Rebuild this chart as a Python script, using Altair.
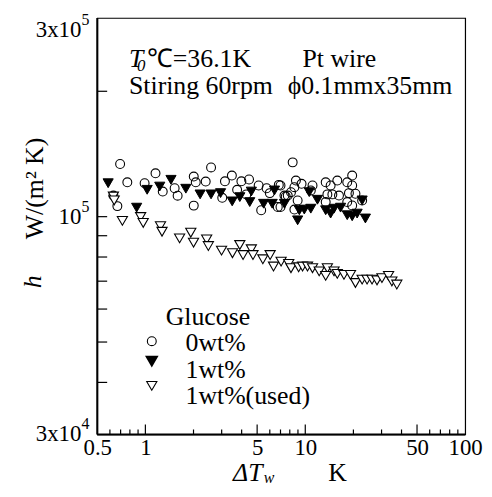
import altair as alt
import pandas as pd

# ---------------- data (dT in K, h in units of 1e5 W/(m2 K)) ----------------
dT_0wt = [0.695, 0.771, 0.631, 0.668, 0.989, 1.157, 1.284, 1.524, 1.591, 2.007, 2.066, 2.007,
          2.384, 2.575, 3.025, 3.145, 3.475, 3.748, 3.985, 4.45, 4.28, 5.11, 5.30, 5.73, 6.00,
          6.83, 7.00, 7.55, 8.34, 7.00, 7.41, 8.14, 8.55, 8.74, 9.48, 11.10, 10.83, 8.55, 13.42,
          14.41, 15.86, 18.30, 19.65, 19.65, 14.77, 13.75, 16.25, 18.75, 20.60, 22.68, 13.42,
          19.65, 18.30, 8.96, 7.77, 6.73]
h_0wt = [1.338, 1.209, 1.124, 1.060, 1.203, 1.271, 1.149, 1.170, 1.123, 1.248, 1.209, 1.063,
         1.214, 1.313, 1.110, 1.216, 1.255, 1.160, 1.216, 1.228, 1.131, 1.188, 1.036, 1.170,
         1.139, 1.192, 1.055, 1.118, 1.350, 1.188, 1.124, 1.145, 1.177, 1.221, 1.199, 1.188,
         1.156, 1.040, 1.209, 1.188, 1.221, 1.209, 1.255, 1.188, 1.131, 1.131, 1.124, 1.139,
         1.135, 1.094, 1.084, 1.064, 1.084, 1.094, 1.124, 1.055]

dT_1wt = [0.585, 0.882, 1.026, 1.230, 1.446, 1.791, 2.200, 2.575, 2.953, 3.49, 3.896, 4.60,
          4.495, 5.49, 6.21, 6.42, 7.41, 8.96, 9.18, 9.86, 10.83, 10.59, 11.92, 13.42, 14.41,
          15.13, 16.63, 18.30, 19.65, 21.10, 22.68, 23.77]
h_1wt = [1.203, 1.051, 1.160, 1.181, 1.226, 1.167, 1.131, 1.131, 1.139, 1.088, 1.114, 1.149,
         1.084, 1.074, 1.074, 1.156, 1.074, 0.980, 1.036, 1.040, 1.045, 1.145, 1.098, 1.036,
         1.017, 1.045, 1.051, 1.008, 1.002, 1.017, 1.094, 0.990]

dT_used = [0.631, 0.638, 0.718, 0.934, 0.969, 1.243, 1.271, 1.637, 1.923, 2.0, 2.417, 2.477,
           2.995, 3.505, 3.896, 4.083, 4.60, 4.71, 5.43, 6.03, 6.33, 7.06, 7.88, 8.14, 9.09,
           9.62, 10.33, 11.10, 12.22, 13.75, 13.42, 15.13, 15.86, 17.46, 19.18, 20.60, 22.68,
           24.35, 26.16, 28.09, 30.17, 33.19, 34.8, 37.38]
h_used = [1.118, 1.094, 0.977, 0.998, 0.966, 0.949, 0.920, 0.887, 0.915, 0.866, 0.882, 0.850,
          0.829, 0.817, 0.855, 0.809, 0.835, 0.809, 0.790, 0.809, 0.759, 0.780, 0.770, 0.752,
          0.756, 0.759, 0.759, 0.752, 0.739, 0.752, 0.721, 0.739, 0.729, 0.725, 0.725, 0.693,
          0.706, 0.706, 0.706, 0.703, 0.712, 0.721, 0.699, 0.687]

x_labels = [0.5, 1, 5, 10, 50, 100]
x_major_ticks = [1, 5, 10, 50]
x_minor_ticks = [0.6, 0.7, 0.8, 0.9, 2, 3, 4, 6, 7, 8, 9, 20, 30, 40, 60, 70, 80, 90]
y_ticks = [40000, 50000, 60000, 70000, 80000, 90000, 100000, 200000]
y_label_vals = [30000, 100000, 300000]
y_label_main = ["3x10", "10", "3x10"]
y_label_sup = ["4", "5", "5"]

legend_title = "Glucose"
legend_labels = ["0wt%", "1wt%", "1wt%(used)"]

FONT = "Liberation Serif"
W, H = 371, 420

xs = alt.Scale(type="log", domain=[0.5, 100], nice=False)
ys = alt.Scale(type="log", domain=[30000, 300000], nice=False)
xaxis = alt.Axis(values=x_labels, format="~g", title=None, ticks=False, domain=False,
                 grid=False, labelFont=FONT, labelFontSize=23, labelColor="black",
                 labelOverlap=False, labelPadding=2, tickSize=0, labelFlush=False)


def mk(xv, hv):
    return pd.DataFrame({"x": xv, "y": [v * 1e5 for v in hv]})


X = alt.X("x:Q", scale=xs, axis=xaxis)
Y = alt.Y("y:Q", scale=ys, axis=None)

S_CIRC, S_TRI = 80, 105

p_1wt = alt.Chart(mk(dT_1wt, h_1wt)).mark_point(
    shape="triangle-down", filled=True, fill="black", stroke="black", strokeWidth=1,
    size=S_TRI, opacity=1).encode(x=X, y=Y)
p_0wt = alt.Chart(mk(dT_0wt, h_0wt)).mark_point(
    shape="circle", filled=False, stroke="black", color="black", strokeWidth=1.1,
    size=S_CIRC, opacity=1).encode(x=X, y=Y)
p_used = alt.Chart(mk(dT_used, h_used)).mark_point(
    shape="triangle-down", filled=True, fill="white", stroke="black", strokeWidth=1.1,
    size=S_TRI, opacity=1).encode(x=X, y=Y)

# ticks (inward)
xt_major = alt.Chart(pd.DataFrame({"x": x_major_ticks})).mark_rule(color="black", strokeWidth=1.2).encode(
    x=X, y=alt.value(H), y2=alt.value(H - 10))
xt_minor = alt.Chart(pd.DataFrame({"x": x_minor_ticks})).mark_rule(color="black", strokeWidth=1.2).encode(
    x=X, y=alt.value(H), y2=alt.value(H - 5))
yt = alt.Chart(pd.DataFrame({"y": y_ticks})).mark_rule(color="black", strokeWidth=1.2).encode(
    y=Y, x=alt.value(0), x2=alt.value(10))
left_line = alt.Chart(pd.DataFrame({"a": [0]})).mark_rule(color="black", strokeWidth=2).encode(
    x=alt.value(0), y=alt.value(0), y2=alt.value(H))
bottom_line = alt.Chart(pd.DataFrame({"a": [0]})).mark_rule(color="black", strokeWidth=2).encode(
    y=alt.value(H), x=alt.value(0), x2=alt.value(W))

# y tick labels with superscripts
ylab = pd.DataFrame({"y": y_label_vals, "main": y_label_main, "sup": y_label_sup})
ylow = alt.Chart(ylab).transform_filter("datum.y < 200000")
ytop = alt.Chart(ylab).transform_filter("datum.y > 200000")
ylab_layers = []
for base, shift in [(ylow, 0), (ytop, 12)]:
    ylab_layers.append(base.mark_text(font=FONT, fontSize=23, align="right", baseline="middle",
                                      dx=-16, dy=shift, color="black").encode(
        y=Y, x=alt.value(0), text="main:N"))
    ylab_layers.append(base.mark_text(font=FONT, fontSize=16, align="left", baseline="middle",
                                      dx=-16, dy=shift - 10, color="black").encode(
        y=Y, x=alt.value(0), text="sup:N"))


def txt(s, x, y, size=26, style="normal", align="left", baseline="alphabetic", angle=0):
    kw = dict(font=FONT, fontSize=size, fontStyle=style, align=align, baseline=baseline,
              color="black", text=s)
    if angle:
        kw["angle"] = angle
    return alt.Chart(pd.DataFrame({"a": [0]})).mark_text(**kw).encode(
        x=alt.value(x), y=alt.value(y))


annots = [
    txt("T", 32, 49, style="italic"),
    txt("0", 40, 54, size=17, style="italic"),
    txt("℃=36.1K", 50, 49),
    txt("Pt wire", 207, 49),
    txt("Stiring 60rpm", 32, 77),
    txt("ϕ0.1mmx35mm", 192, 77),
    # axis titles
    txt("W/(m² K)", -55, 172, align="center", angle=270),
    txt("h", -57, 266, style="italic", align="center", angle=270),
    txt("ΔT", 137, 467, style="italic"),
    txt("w", 168, 469, size=16, style="italic"),
    txt("K", 233, 467),
    # legend
    txt(legend_title, 69, 310),
    txt(legend_labels[0], 89, 336),
    txt(legend_labels[1], 89, 363),
    txt(legend_labels[2], 89, 389),
]

leg_sym = [
    alt.Chart(pd.DataFrame({"a": [0]})).mark_point(shape="circle", filled=False, stroke="black",
                                                    strokeWidth=1.1, size=S_CIRC, opacity=1).encode(
        x=alt.value(55), y=alt.value(326)),
    alt.Chart(pd.DataFrame({"a": [0]})).mark_point(shape="triangle-down", filled=True, fill="black",
                                                    stroke="black", size=S_TRI, opacity=1).encode(
        x=alt.value(55), y=alt.value(346)),
    alt.Chart(pd.DataFrame({"a": [0]})).mark_point(shape="triangle-down", filled=True, fill="white",
                                                    stroke="black", strokeWidth=1.1, size=S_TRI, opacity=1).encode(
        x=alt.value(55), y=alt.value(371)),
]

chart = alt.layer(
    p_1wt, p_0wt, p_used, xt_major, xt_minor, yt, left_line, bottom_line,
    *ylab_layers, *annots, *leg_sym
).properties(
    width=W, height=H,
    autosize=alt.AutoSizeParams(type="none"),
    padding={"left": 90, "top": 8, "right": 19, "bottom": 53},
    background="white",
).configure_view(stroke="black", strokeWidth=1.2)

chart.save("out.html", embed_options={"renderer": "svg", "actions": False})
